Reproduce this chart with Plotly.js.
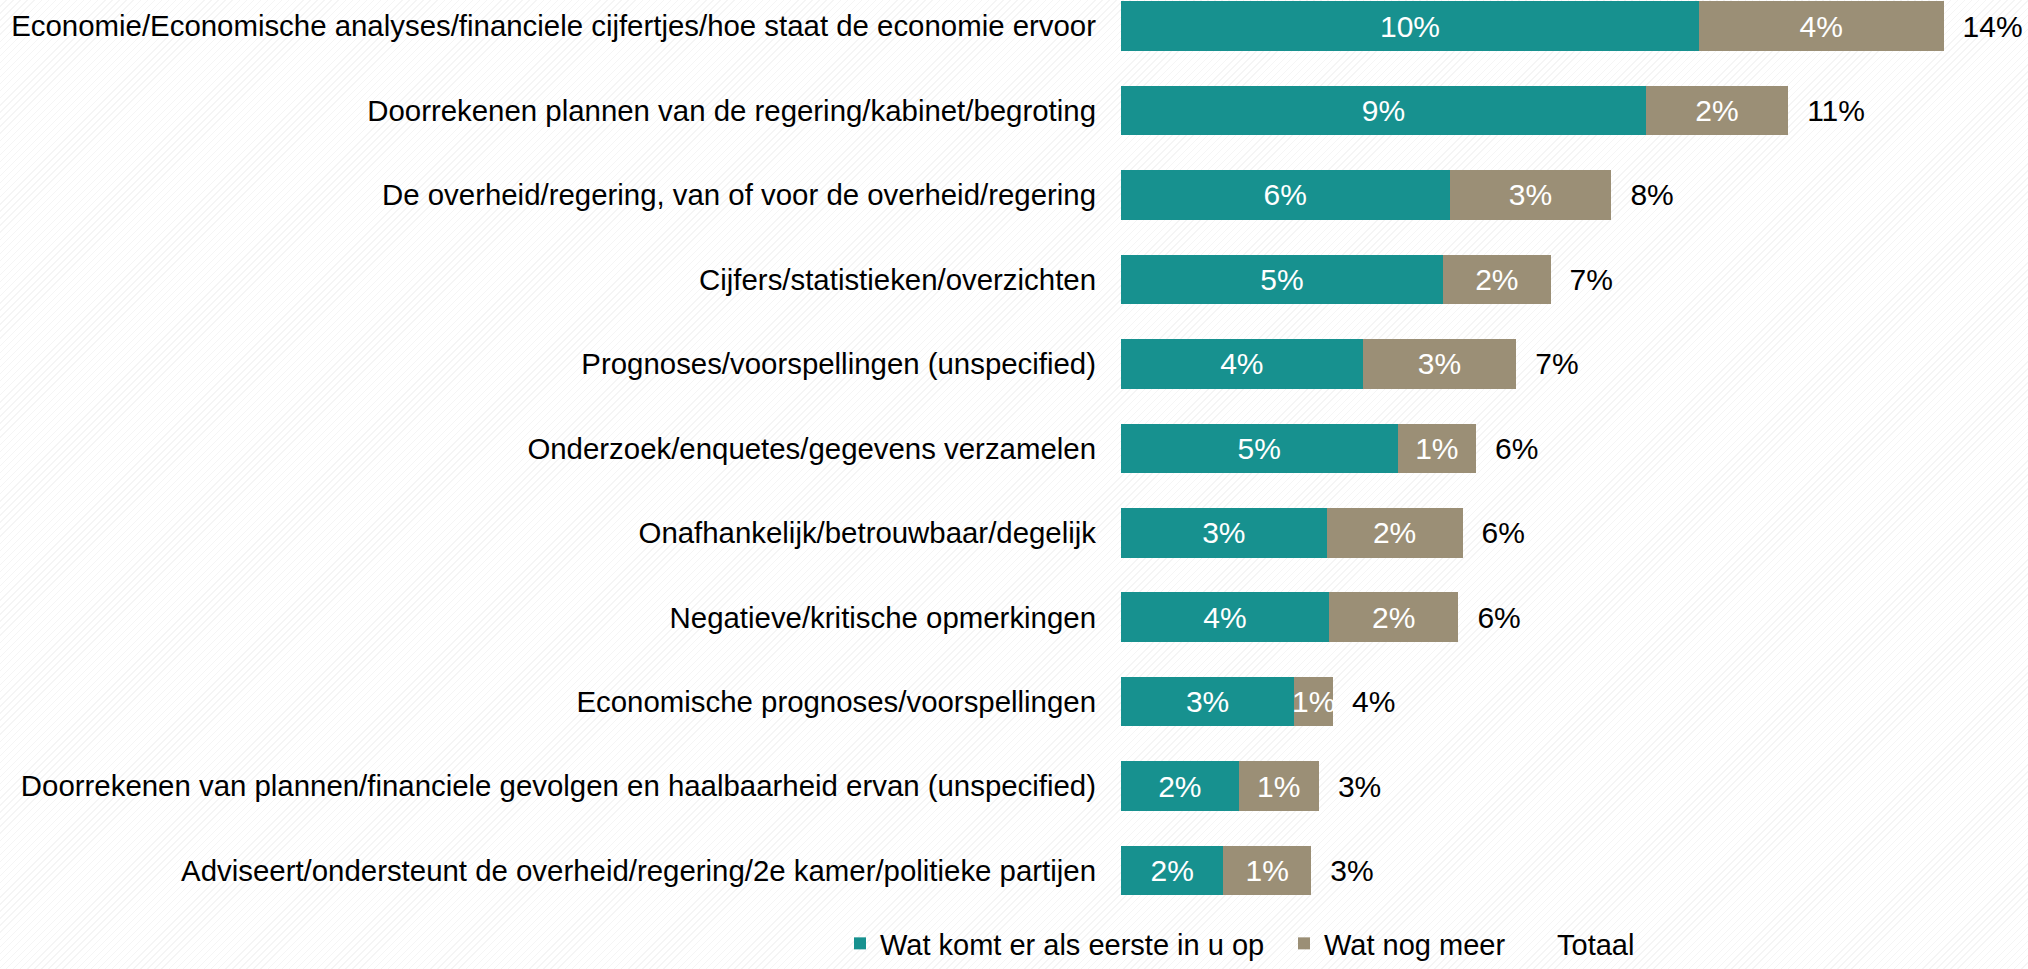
<!DOCTYPE html>
<html>
<head>
<meta charset="utf-8">
<script src="https://cdn.plot.ly/plotly-3.0.1.min.js"></script>
<style>
  html, body { margin: 0; padding: 0; }
  body {
    width: 2028px; height: 969px; overflow: hidden;
    background: repeating-linear-gradient(135deg, #ffffff 0px, #ffffff 4px, #f5f5f5 4px, #f5f5f5 5px);
  }
  #chart { width: 2028px; height: 969px; }
</style>
</head>
<body>
<div id="chart"></div>
<script>
// answers, top to bottom
const categories = [
  'Economie/Economische analyses/financiele cijfertjes/hoe staat de economie ervoor',
  'Doorrekenen plannen van de regering/kabinet/begroting',
  'De overheid/regering, van of voor de overheid/regering',
  'Cijfers/statistieken/overzichten',
  'Prognoses/voorspellingen (unspecified)',
  'Onderzoek/enquetes/gegevens verzamelen',
  'Onafhankelijk/betrouwbaar/degelijk',
  'Negatieve/kritische opmerkingen',
  'Economische prognoses/voorspellingen',
  'Doorrekenen van plannen/financiele gevolgen en haalbaarheid ervan (unspecified)',
  'Adviseert/ondersteunt de overheid/regering/2e kamer/politieke partijen'
];

const firstValues = [9.78, 8.88, 5.56, 5.45, 4.09, 4.68, 3.48, 3.52, 2.93, 1.99, 1.73];
const moreValues  = [4.14, 2.41, 2.74, 1.82, 2.60, 1.33, 2.30, 2.19, 0.66, 1.36, 1.49];

const seriesNames = ['Wat komt er als eerste in u op', 'Wat nog meer', 'Totaal'];

const pct = v => Math.round(v) + '%';
const totals = firstValues.map((v, i) => v + moreValues[i]);

const teal = '#17918f';
const taupe = '#9b8f76';
const fontFam = '"Liberation Sans", Arial, sans-serif';

// gap between bar end and total label, in axis units
const totalGap = 0.27;

const first = {
  type: 'bar', orientation: 'h',
  name: seriesNames[0],
  y: categories, x: firstValues,
  text: firstValues.map(pct),
  textposition: 'inside', insidetextanchor: 'middle', textangle: 0,
  constraintext: 'none',
  textfont: {color: '#ffffff', size: 30, family: fontFam},
  marker: {color: teal},
  hoverinfo: 'skip',
  legend: 'legend'
};

const more = {
  type: 'bar', orientation: 'h',
  name: seriesNames[1],
  y: categories, x: moreValues,
  text: moreValues.map(pct),
  textposition: 'inside', insidetextanchor: 'middle', textangle: 0,
  constraintext: 'none',
  textfont: {color: '#ffffff', size: 30, family: fontFam},
  marker: {color: taupe},
  hoverinfo: 'skip',
  legend: 'legend2'
};

const total = {
  type: 'bar', orientation: 'h',
  name: seriesNames[2],
  y: categories, x: categories.map(() => totalGap),
  text: totals.map(pct),
  textposition: 'outside', textangle: 0,
  constraintext: 'none', cliponaxis: false,
  textfont: {color: '#000000', size: 30, family: fontFam},
  marker: {color: 'rgba(0,0,0,0)'},
  hoverinfo: 'skip',
  legend: 'legend3'
};

const legendBase = {
  orientation: 'h',
  xref: 'container', yref: 'container',
  y: 0, yanchor: 'bottom', xanchor: 'left',
  bgcolor: 'rgba(0,0,0,0)',
  font: {size: 29, color: '#000000', family: fontFam}
};

const layout = {
  width: 2028, height: 969,
  margin: {l: 1121, r: 7, t: 0, b: 57},
  barmode: 'stack',
  bargap: 0.414,
  paper_bgcolor: 'rgba(0,0,0,0)',
  plot_bgcolor: 'rgba(0,0,0,0)',
  font: {family: fontFam, color: '#000000'},
  xaxis: {
    range: [0, 15.23],
    visible: false,
    fixedrange: true
  },
  yaxis: {
    type: 'category',
    categoryorder: 'array', categoryarray: categories,
    range: [10.49, -0.308],
    showgrid: false, zeroline: false, showline: false,
    ticks: '',
    ticklabelstandoff: 24,
    tickfont: {size: 29.4, color: '#000000', family: fontFam},
    fixedrange: true
  },
  showlegend: true,
  legend:  Object.assign({}, legendBase, {x: 840 / 2028}),
  legend2: Object.assign({}, legendBase, {x: 1284 / 2028}),
  legend3: Object.assign({}, legendBase, {x: 1517 / 2028})
};

Plotly.newPlot('chart', [first, more, total], layout, {displayModeBar: false, staticPlot: true});
</script>
</body>
</html>
